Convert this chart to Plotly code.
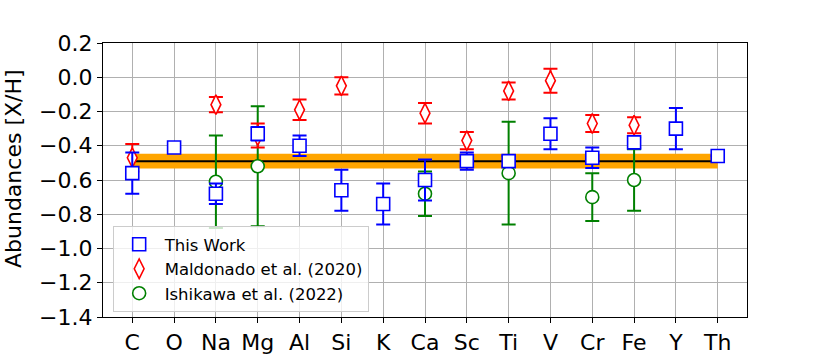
import plotly.graph_objects as go

elements = ["C", "O", "Na", "Mg", "Al", "Si", "K", "Ca", "Sc", "Ti", "V", "Cr", "Fe", "Y", "Th"]

this_work = [-0.56, -0.41, -0.68, -0.33, -0.40, -0.66, -0.74, -0.60, -0.49, -0.49, -0.33, -0.47, -0.38, -0.30, -0.46]
this_work_err = [0.12, 0.0, 0.06, 0.04, 0.06, 0.12, 0.12, 0.12, 0.05, 0.03, 0.09, 0.06, 0.03, 0.12, 0.0]

maldonado = [-0.47, None, -0.16, -0.34, -0.19, -0.05, None, -0.21, -0.37, -0.08, -0.02, -0.27, -0.28, None, None]
maldonado_err = [0.08, None, 0.045, 0.07, 0.06, 0.05, None, 0.06, 0.05, 0.05, 0.07, 0.05, 0.047, None, None]

ishikawa = [None, None, -0.61, -0.52, None, None, None, -0.68, None, -0.56, None, -0.70, -0.60, None, None]
ishikawa_err = [None, None, 0.27, 0.35, None, None, None, 0.13, None, 0.30, None, 0.14, 0.18, None, None]

mean_abundance = -0.49
mean_sigma = 0.043

y_tickvals = [0.2, 0.0, -0.2, -0.4, -0.6, -0.8, -1.0, -1.2, -1.4]
y_ticktext = ["0.2", "0.0", "−0.2", "−0.4", "−0.6", "−0.8", "−1.0", "−1.2", "−1.4"]
y_title = "Abundances [X/H]"

xs = list(range(len(elements)))
x0, x1 = xs[0], xs[-1]

FONT = "DejaVu Sans"
W, H = 830, 356
ML, MR, MT, MB = 103, 83, 43, 39
fig = go.Figure()

# orange band
fig.add_trace(go.Scatter(
    x=[x0, x1, x1, x0, x0],
    y=[mean_abundance - mean_sigma, mean_abundance - mean_sigma,
       mean_abundance + mean_sigma, mean_abundance + mean_sigma,
       mean_abundance - mean_sigma],
    fill="toself", fillcolor="#FFA500", mode="none",
    showlegend=False, hoverinfo="skip"))
# mean line
fig.add_trace(go.Scatter(
    x=[x0, x1], y=[mean_abundance, mean_abundance], mode="lines",
    line=dict(color="black", width=2), showlegend=False, hoverinfo="skip"))

def err_trace(y, err, name, color, symbol, size, rank):
    return go.Scatter(
        x=xs, y=y, mode="markers", name=name, legendrank=rank,
        marker=dict(symbol=symbol, size=size, color="white",
                    line=dict(color=color, width=1.6)),
        error_y=dict(type="data", array=[e if e is not None else 0 for e in err],
                     visible=True, color=color, thickness=2, width=7),
    )

fig.add_trace(err_trace(ishikawa, ishikawa_err, "Ishikawa et al. (2022)", "#008000", "circle", 13, 3))
fig.add_trace(err_trace(maldonado, maldonado_err, "Maldonado et al. (2020)", "#FF0000", "diamond-tall", 14, 2))
fig.add_trace(err_trace(this_work, this_work_err, "This Work", "#0000FF", "square", 13, 1))

pw = W - ML - MR
ph = H - MT - MB
fig.add_annotation(
    text=y_title, textangle=-90, showarrow=False,
    xref="paper", yref="paper",
    x=(13 - ML) / pw, y=(H - MB - 169) / ph,
    xanchor="center", yanchor="middle",
    font=dict(size=22, family=FONT, color="black"),
)

fig.update_layout(
    width=W, height=H,
    margin=dict(l=ML, r=MR, t=MT, b=MB, autoexpand=False),
    paper_bgcolor="white", plot_bgcolor="white",
    font=dict(family=FONT, size=22, color="black"),
    legend=dict(x=0.015, y=0.018, xanchor="left", yanchor="bottom",
                bgcolor="rgba(255,255,255,0.8)", bordercolor="#cccccc", borderwidth=1,
                font=dict(size=16.5, family=FONT), itemwidth=41,
                tracegroupgap=0),
    showlegend=True,
)
fig.update_xaxes(
    range=[-0.7, 14.7], tickmode="array", tickvals=xs, ticktext=elements,
    showgrid=True, gridcolor="#b0b0b0", gridwidth=1,
    showline=True, linecolor="black", linewidth=1.3, mirror=True,
    ticks="outside", ticklen=5, tickcolor="black", zeroline=False,
    tickfont=dict(size=22, family=FONT), automargin=False,
)
fig.update_yaxes(
    range=[-1.4, 0.2], tickmode="array", tickvals=y_tickvals, ticktext=y_ticktext,
    showgrid=True, gridcolor="#b0b0b0", gridwidth=1,
    showline=True, linecolor="black", linewidth=1.3, mirror=True,
    ticks="outside", ticklen=5, tickcolor="black", zeroline=False,
    tickfont=dict(size=22, family=FONT), automargin=False,
)

fig.write_html("out.html", config={"displayModeBar": False},
               post_script="document.body.style.margin='0';document.body.style.overflow='hidden';")
